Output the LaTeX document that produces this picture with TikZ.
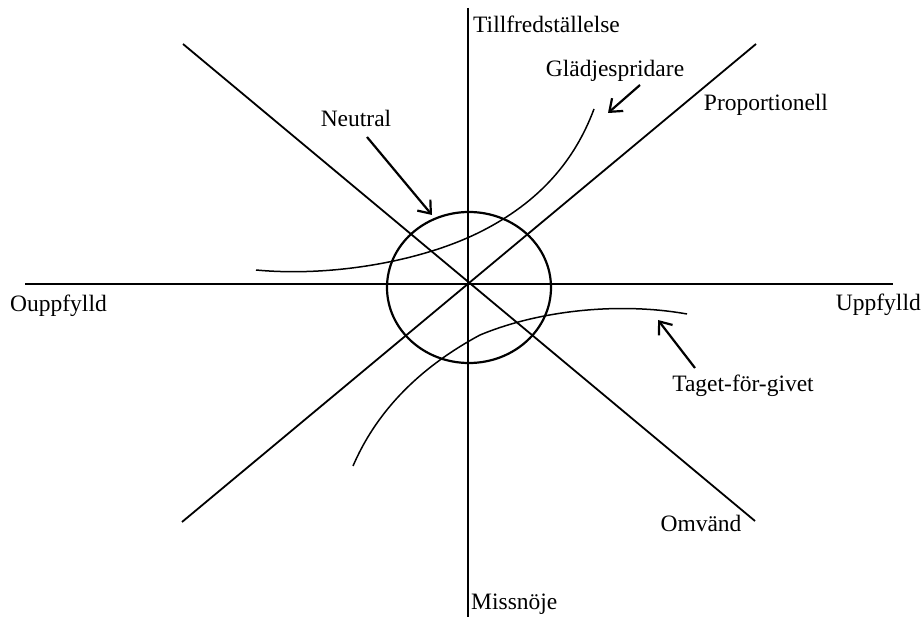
\documentclass[tikz,border=0pt]{standalone}
\usepackage{fontspec}
\setmainfont{Liberation Serif}
\usetikzlibrary{arrows.meta,shapes.geometric}
\begin{document}
\begin{tikzpicture}[x=1pt,y=-1pt,
  axis/.style={line width=1.8pt},
  curve/.style={line width=1.5pt},
  ring/.style={line width=2.2pt},
  pointer/.style={line width=2.2pt,-{Straight Barb[length=11pt,width=17pt,line width=2.2pt]}},
  lbl/.style={inner sep=0pt,font=\fontsize{23.5}{26}\selectfont}]
\useasboundingbox (0,0) rectangle (924,617);
\fill[white] (0,0) rectangle (924,617);
% axes
\coordinate (vt) at (468,8);
\coordinate (vb) at (468,617);
\coordinate (hl) at (25,284);
\coordinate (hr) at (893,284);
\coordinate (dtl) at (183,44);
\coordinate (dbr) at (755,521);
\coordinate (dbl) at (182,522);
\coordinate (dtr) at (756,44);
\draw[axis] (vt) -- (vb);
\draw[axis] (hl) -- (hr);
\draw[axis] (dtl) -- (dbr);
\draw[axis] (dbl) -- (dtr);
% circle
\node[ring,draw,ellipse,minimum width=164pt,minimum height=151pt,inner sep=0pt] (circ) at (469,287.5) {};
% curves
\draw[curve] (256,270) .. controls (330,277) and (420,262) .. (480,232)
                       .. controls (540,202) and (575,160) .. (594,109);
\draw[curve] (353,466) .. controls (375,415) and (415,370) .. (480,335)
                       .. controls (540,310) and (620,302) .. (687,314);
% labels
\node[lbl,anchor=west] (tf) at (473,24) {Tillfredställelse};
\node[lbl] (gl) at (615,71) {Glädjespridare};
\node[lbl] (pr) at (766,105) {Proportionell};
\node[lbl] (ne) at (356,118) {Neutral};
\node[lbl,anchor=west] (ou) at (10,306) {Ouppfylld};
\node[lbl,anchor=east] (up) at (921,305) {Uppfylld};
\node[lbl] (tg) at (743,386) {Taget-för-givet};
\node[lbl] (om) at (701,523) {Omvänd};
\node[lbl,anchor=west] (mi) at (471,604) {Missnöje};
% pointers
\coordinate (ns) at (367,137);
\coordinate (ne2) at (432,215);
\coordinate (gs) at (640,85);
\coordinate (ge) at (608,113);
\coordinate (ts) at (695,368);
\coordinate (te) at (658,320);
\draw[pointer] (ns) -- (ne2);
\draw[pointer] (gs) -- (ge);
\draw[pointer] (ts) -- (te);
\end{tikzpicture}
\end{document}
